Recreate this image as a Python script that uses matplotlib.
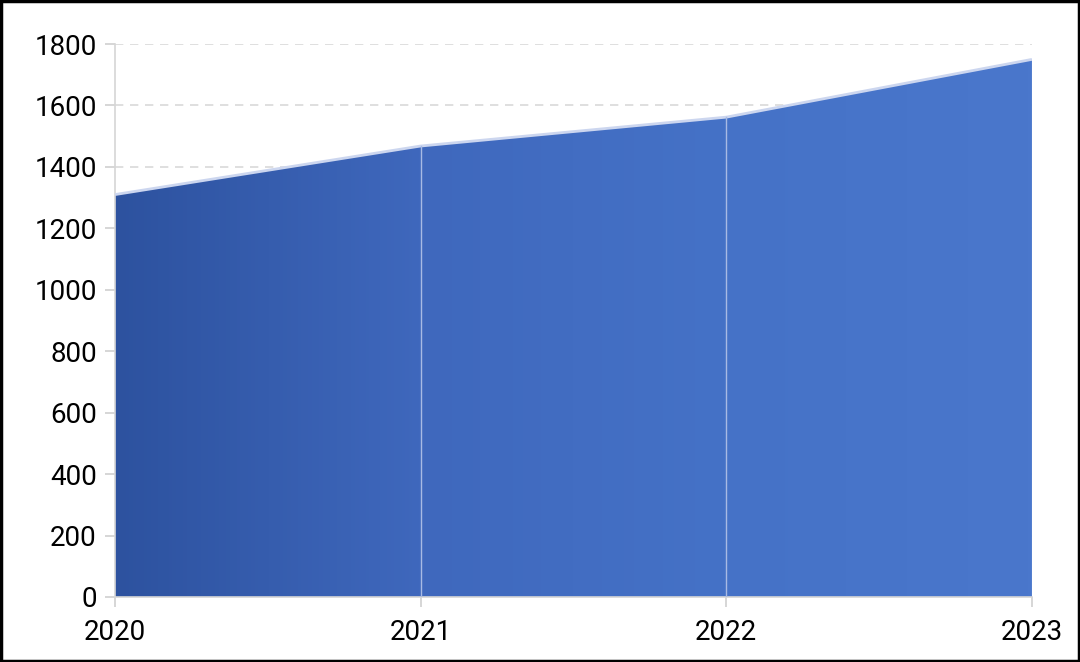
import matplotlib
matplotlib.use('Agg')
import matplotlib.pyplot as plt
import numpy as np
from matplotlib.colors import LinearSegmentedColormap
from matplotlib.patches import Rectangle

plt.rcParams['font.family'] = ['Roboto', 'DejaVu Sans']

years = [2020, 2021, 2022, 2023]
values = [1310, 1468, 1562, 1750]
yticks = [0, 200, 400, 600, 800, 1000, 1200, 1400, 1600, 1800]

fig = plt.figure(figsize=(10.8, 6.62), dpi=100)
ax = fig.add_axes([0.1065, 0.0982, 0.849, 0.8353])

# gradient fill clipped to the area
poly = ax.fill_between(years, values, 0, color='none', lw=0)
cmap = LinearSegmentedColormap.from_list('g', ['#2d529f', '#3f68bd', '#4572c7', '#4a77cc'])
grad = np.linspace(0, 1, 256).reshape(1, -1)
im = ax.imshow(grad, cmap=cmap, aspect='auto', extent=[years[0], years[-1], 0, max(values)],
               origin='lower', zorder=2)
path = poly.get_paths()[0]
im.set_clip_path(path, transform=ax.transData)

ax.plot(years, values, color='#ccd6ef', lw=2, zorder=3, solid_capstyle='butt')
for x, v in zip(years[1:-1], values[1:-1]):
    ax.plot([x, x], [0, v], color='#a8bae4', lw=1, zorder=3)

ax.set_xlim(years[0], years[-1])
ax.set_ylim(0, 1800)
ax.set_xticks(years)
ax.set_yticks(yticks)
ax.tick_params(axis='both', labelsize=20, color='#d0d0d0', length=7, width=1.2)
ax.tick_params(axis='y', pad=6)
ax.tick_params(axis='x', pad=9)
ax.yaxis.grid(True, linestyle=(0, (5, 4)), color='#d9d9d9', lw=1.2, zorder=0)
ax.set_axisbelow(True)
for s in ['top', 'right']:
    ax.spines[s].set_visible(False)
for s in ['left', 'bottom']:
    ax.spines[s].set_color('#d6d6d6')
    ax.spines[s].set_linewidth(1.2)

fig.patches.append(Rectangle((0.001, 0.0015), 0.998, 0.997, transform=fig.transFigure,
                             fill=False, ec='black', lw=2.5))

fig.savefig('out.png', dpi=100)
